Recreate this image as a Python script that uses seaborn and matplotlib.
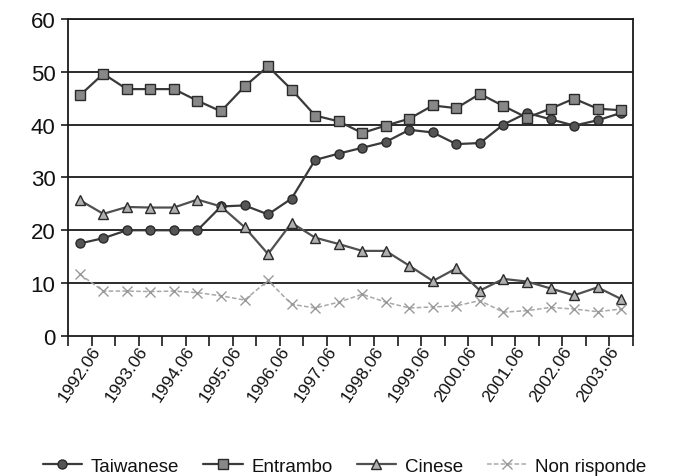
import numpy as np
import pandas as pd
import matplotlib
matplotlib.use("Agg")
import matplotlib.pyplot as plt
import seaborn as sns

# 半年度調查期別
periods = ["1992.06", "1992.12", "1993.06", "1993.12", "1994.06", "1994.12",
           "1995.06", "1995.12", "1996.06", "1996.12", "1997.06", "1997.12",
           "1998.06", "1998.12", "1999.06", "1999.12", "2000.06", "2000.12",
           "2001.06", "2001.12", "2002.06", "2002.12", "2003.06", "2003.12"]

taiwanese = [17.5, 18.5, 20.0, 20.0, 20.0, 20.0, 24.5, 24.7, 23.0, 26.0, 33.3, 34.5,
             35.6, 36.7, 39.0, 38.5, 36.3, 36.5, 40.0, 42.2, 41.0, 39.8, 40.8, 42.2]
entrambo = [45.5, 49.6, 46.7, 46.7, 46.7, 44.5, 42.5, 47.2, 51.0, 46.6, 41.7, 40.6,
            38.4, 39.8, 41.1, 43.6, 43.1, 45.8, 43.5, 41.3, 43.0, 44.9, 43.0, 42.7]
cinese = [25.7, 23.1, 24.4, 24.3, 24.3, 25.8, 24.5, 20.6, 15.5, 21.4, 18.6, 17.4,
          16.1, 16.1, 13.3, 10.4, 12.8, 8.6, 10.8, 10.3, 9.0, 7.7, 9.2, 7.0]
non_risponde = [11.7, 8.5, 8.5, 8.4, 8.5, 8.2, 7.6, 6.8, 10.5, 6.0, 5.3, 6.4,
                7.9, 6.4, 5.3, 5.5, 5.7, 6.7, 4.5, 4.8, 5.4, 5.1, 4.6, 5.1]

series_names = ["Taiwanese", "Entrambo", "Cinese", "Non risponde"]
series_values = [taiwanese, entrambo, cinese, non_risponde]
y_ticks = [0, 10, 20, 30, 40, 50, 60]

idx = list(range(len(periods)))

sns.set_theme(style="white")
plt.rcParams["font.family"] = ["Liberation Sans", "DejaVu Sans"]

fig = plt.figure(figsize=(6.82, 4.77), dpi=100)
ax = fig.add_axes([0.0997, 0.2935, 0.8283, 0.665])

# 各系列樣式（灰階）
styles = {
    "Taiwanese": dict(color="#3a3a3a", marker="o", mfc="#555555", mec="#2a2a2a"),
    "Entrambo": dict(color="#3a3a3a", marker="s", mfc="#888888", mec="#2a2a2a"),
    "Cinese": dict(color="#505050", marker="^", mfc="#b0b0b0", mec="#2a2a2a"),
    "Non risponde": dict(color="#a8a8a8", marker="x", mfc="none", mec="#999999"),
}

for name, vals in zip(series_names, series_values):
    st = styles[name]
    sns.lineplot(x=idx, y=vals, ax=ax, label=name, color=st["color"],
                 marker=st["marker"], markersize=6.5, markerfacecolor=st["mfc"],
                 markeredgecolor=st["mec"], markeredgewidth=1.0,
                 linewidth=1.6 if name != "Non risponde" else 1.1,
                 linestyle="-" if name != "Non risponde" else (0, (3, 1.5)))

# 水平格線
for v in y_ticks[1:]:
    ax.axhline(v, color="#1a1a1a", linewidth=1.3, zorder=0)

ax.set_xlim(-0.5, len(periods) - 0.5)
ax.set_ylim(0, 60)
ax.set_yticks(y_ticks)
ax.set_yticklabels([str(v) for v in y_ticks], fontsize=16, color="#111111")

ax.set_xticks(range(0, len(periods), 2))
ax.set_xticklabels(periods[::2], rotation=56, ha="center", fontsize=12.5,
                   color="#111111")
ax.set_xticks(np.arange(-0.5, len(periods), 1), minor=True)
ax.tick_params(axis="x", which="major", length=0, pad=5)
ax.tick_params(axis="x", which="minor", length=7, width=1.2, color="#1a1a1a",
               direction="out", bottom=True)
ax.tick_params(axis="y", length=5, width=1.2, color="#1a1a1a", left=True,
               direction="out", pad=4)

ax.set_xlabel("")
ax.set_ylabel("")

for s in ax.spines.values():
    s.set_color("#1a1a1a")
    s.set_linewidth(1.3)

handles, labels = ax.get_legend_handles_labels()
ax.get_legend().remove()
fig.legend(handles, labels, loc="lower center", bbox_to_anchor=(0.505, -0.025),
           ncol=4, frameon=False, fontsize=13.5, handlelength=2.1,
           columnspacing=1.3, handletextpad=0.45, labelcolor="#111111",
           borderaxespad=0.3)

fig.savefig("out.png", dpi=100)
